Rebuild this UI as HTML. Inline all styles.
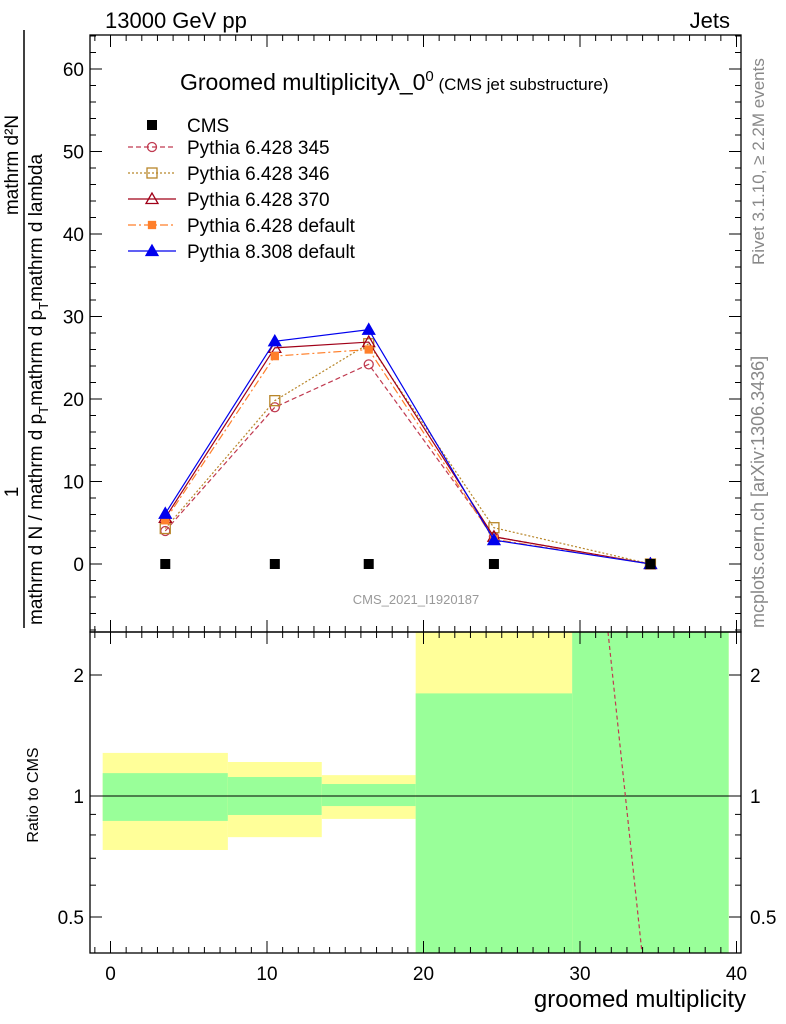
<!DOCTYPE html>
<html><head><meta charset="utf-8"><style>
body{margin:0;background:#fff;font-family:"Liberation Sans",sans-serif}
svg{display:block}
text{font-family:"Liberation Sans",sans-serif}
</style></head><body>
<svg id="c" width="786" height="1024" viewBox="0 0 786 1024" xmlns="http://www.w3.org/2000/svg">
<g id="bands"></g>
<g id="marks"></g>
<g id="axes"></g>
<text x="105" y="28" font-size="22">13000 GeV pp</text>
<text x="730" y="28" font-size="22" text-anchor="end">Jets</text>
<text x="180" y="90" font-size="23">Groomed multiplicityλ_0<tspan font-size="15" dy="-9">0</tspan><tspan font-size="17" dy="9"> (CMS jet substructure)</tspan></text>
<text x="416" y="604" font-size="13" fill="#999" text-anchor="middle">CMS_2021_I1920187</text>
<text x="746" y="1007" font-size="24" text-anchor="end">groomed multiplicity</text>
<text transform="translate(38,795) rotate(-90)" font-size="16" text-anchor="middle">Ratio to CMS</text>
<text transform="translate(764,265) rotate(-90)" font-size="17" fill="#888" text-anchor="start">Rivet 3.1.10, ≥ 2.2M events</text>
<text transform="translate(764,628) rotate(-90)" font-size="18" fill="#888">mcplots.cern.ch [arXiv:1306.3436]</text>
<g font-size="19">
<text transform="translate(18,492) rotate(-90)" text-anchor="middle">1</text>
<text transform="translate(18,165) rotate(-90)" text-anchor="middle">mathrm d²N</text>
<line x1="24" y1="30" x2="24" y2="628" stroke="#000" stroke-width="1.5"/>
<text transform="translate(42,625) rotate(-90)">mathrm d N / mathrm d p<tspan font-size="13" dy="6">T</tspan><tspan dy="-6">mathrm d p</tspan><tspan font-size="13" dy="6">T</tspan><tspan dy="-6">mathrm d lambda</tspan></text>
</g>
<g id="legend"></g>
</svg>
<script>
const xEdges=[-0.5,7.5,13.5,19.5,29.5,39.5];
const xCenters=[3.5,10.5,16.5,24.5,34.5];
const cmsVals=[0,0,0,0,0];
const p345=[4.0,19.0,24.2,3.3,0];
const p346=[4.3,19.8,26.7,4.4,0];
const p370=[5.6,26.2,26.9,3.3,0];
const p6def=[5.3,25.2,26.0,3.0,0];
const p8def=[6.1,27.0,28.4,2.9,0];
const yellowLo=[0.734,0.79,0.877,0.2,0.2];
const yellowHi=[1.28,1.215,1.127,3,3];
const greenLo=[0.867,0.897,0.944,0.2,0.2];
const greenHi=[1.14,1.115,1.071,1.8,3];
const xTicks=[0,10,20,30,40];
const yTicks=[0,10,20,30,40,50,60];
const rTicks=[0.5,1,2];
const NS="http://www.w3.org/2000/svg";
const L=90,R=741,T=35,M=632,B=953;
const X=v=>110.5+(v-0)*15.65;
const Y=v=>564-v*8.25;
const RY=v=>796-Math.log2(v)*121;
function mk(p,tag,a){const e=document.createElementNS(NS,tag);for(const k in a)e.setAttribute(k,a[k]);p.appendChild(e);return e;}
const bands=document.getElementById('bands'),marks=document.getElementById('marks'),axes=document.getElementById('axes'),leg=document.getElementById('legend');
const clampY=v=>Math.max(M,Math.min(B,RY(v)));
for(let i=0;i<xCenters.length;i++){
 const x0=X(xEdges[i]),x1=X(xEdges[i+1]);
 let r=mk(bands,'rect',{x:x0,y:clampY(yellowHi[i]),width:x1-x0,height:clampY(yellowLo[i])-clampY(yellowHi[i]),fill:'#ffff99'});
 
 
 r=mk(bands,'rect',{x:x0,y:clampY(greenHi[i]),width:x1-x0,height:clampY(greenLo[i])-clampY(greenHi[i]),fill:'#99ff99'});
 
 
}
mk(bands,'line',{x1:L,x2:R,y1:RY(1),y2:RY(1),stroke:'#000','stroke-width':1});
let rl=mk(bands,'line',{x1:608,y1:M,x2:642,y2:B,stroke:'#c03a50','stroke-dasharray':'4,3','stroke-width':1.2});


const series=[
 {n:'Pythia 6.428 345',d:p345,c:'#c03a50',dash:'5,3',m:'circle',fill:'none'},
 {n:'Pythia 6.428 346',d:p346,c:'#b8862a',dash:'2,2',m:'square',fill:'none'},
 {n:'Pythia 6.428 370',d:p370,c:'#a00018',dash:'',m:'tri',fill:'none'},
 {n:'Pythia 6.428 default',d:p6def,c:'#ff7f2a',dash:'8,3,2,3',m:'square',fill:'#ff7f2a',small:true},
 {n:'Pythia 8.308 default',d:p8def,c:'#0000ee',dash:'',m:'tri',fill:'#0000ee'}];
function marker(g,t,x,y,c,f,small){
 if(t==='circle')return mk(g,'circle',{cx:x,cy:y,r:4.5,fill:f,stroke:c,'stroke-width':1.3});
 if(t==='square'){const s=small?3.5:5;return mk(g,'rect',{x:x-s,y:y-s,width:2*s,height:2*s,fill:f,stroke:c,'stroke-width':1.3});}
 return mk(g,'polygon',{points:`${x},${y-6} ${x-6},${y+4.5} ${x+6},${y+4.5}`,fill:f,stroke:c,'stroke-width':1.3});
}
series.forEach((s,k)=>{
 const g=mk(marks,'g',{});
 
 
 mk(g,'polyline',{points:xCenters.map((x,i)=>X(x)+','+Y(s.d[i])).join(' '),fill:'none',stroke:s.c,'stroke-width':1.2,'stroke-dasharray':s.dash});
 xCenters.forEach((x,i)=>marker(g,s.m,X(x),Y(s.d[i]),s.c,s.fill,s.small));
 const ly=152+k*26;
 mk(leg,'line',{x1:128,x2:176,y1:ly-5,y2:ly-5,stroke:s.c,'stroke-width':1.2,'stroke-dasharray':s.dash});
 marker(leg,s.m,152,ly-5,s.c,s.fill,s.small);
 const t=mk(leg,'text',{x:187,y:ly+2,'font-size':19});t.textContent=s.n;
 
 
});
const cg=mk(marks,'g',{});


xCenters.forEach((x,i)=>mk(cg,'rect',{x:X(x)-5,y:Y(cmsVals[i])-5,width:10,height:10,fill:'#000'}));
mk(leg,'rect',{x:147,y:120,width:10,height:10,fill:'#000'});
let ct=mk(leg,'text',{x:187,y:132,'font-size':19});ct.textContent='CMS';
mk(axes,'rect',{x:L,y:T,width:R-L,height:M-T,fill:'none',stroke:'#000','stroke-width':1.3});
mk(axes,'rect',{x:L,y:M,width:R-L,height:B-M,fill:'none',stroke:'#000','stroke-width':1.3});
for(let v=-1;v<=40;v++){const x=X(v);if(x<L||x>R)continue;const maj=v%10===0;const l=maj?12:6;
 [[T,1],[M,-1],[M,1],[B,-1]].forEach(([y,d])=>mk(axes,'line',{x1:x,x2:x,y1:y,y2:y+d*l,stroke:'#000'}));}
for(let v=-8;v<=64;v+=2){const y=Y(v);if(y<T||y>M)continue;const l=v%10===0?12:6;
 mk(axes,'line',{x1:L,x2:L+l,y1:y,y2:y,stroke:'#000'});mk(axes,'line',{x1:R,x2:R-l,y1:y,y2:y,stroke:'#000'});}
[0.5,0.6,0.7,0.8,0.9,1,2].forEach(v=>{const y=RY(v);const l=rTicks.includes(v)?12:6;
 mk(axes,'line',{x1:L,x2:L+l,y1:y,y2:y,stroke:'#000'});mk(axes,'line',{x1:R,x2:R-l,y1:y,y2:y,stroke:'#000'});});
xTicks.forEach(v=>{const t=mk(axes,'text',{x:X(v),y:980,'font-size':19,'text-anchor':'middle'});t.textContent=v;
 
 });
yTicks.forEach(v=>{const t=mk(axes,'text',{x:84,y:Y(v)+7,'font-size':19,'text-anchor':'end'});t.textContent=v;
 
 });
rTicks.forEach(v=>{[[84,'end'],[750,'start']].forEach(([x,a])=>{const t=mk(axes,'text',{x:x,y:RY(v)+7,'font-size':19,'text-anchor':a});t.textContent=v;
 
 });});
</script>
</body></html>
